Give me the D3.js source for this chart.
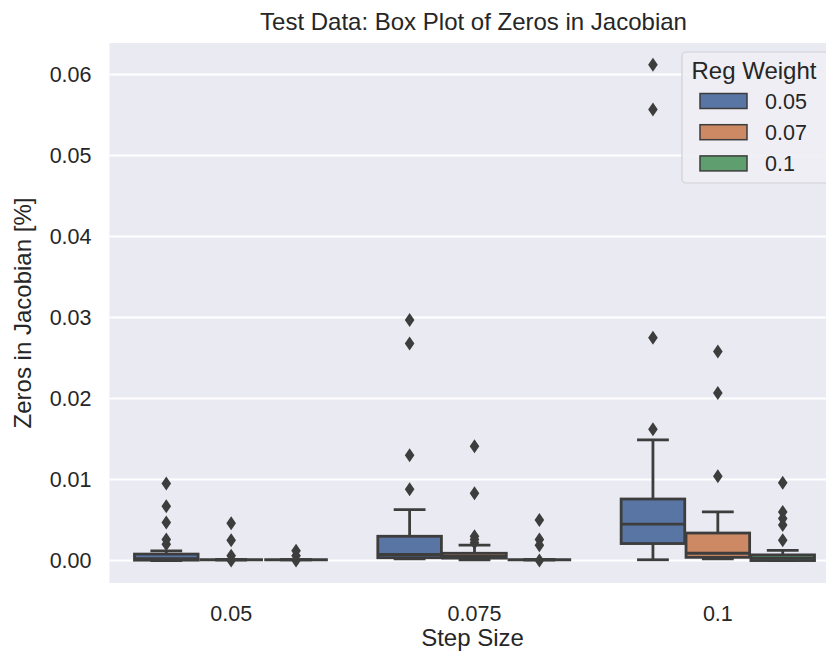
<!DOCTYPE html>
<html>
<head>
<meta charset="utf-8">
<script src="https://cdn.jsdelivr.net/npm/d3@7"></script>
<style>
  html, body { margin: 0; padding: 0; background: #fff; }
  svg { display: block; font-family: "Liberation Sans", Arial, sans-serif; }
</style>
</head>
<body>
<div id="chart"></div>
<script>
// ── Box plot: ceros en el jacobiano por tamaño de paso y peso de regularización ──

var stepSizes = ['0.05', '0.075', '0.1'];
var regWeights = ['0.05', '0.07', '0.1'];
var hueColors = ['#5875a4', '#cc8963', '#5f9e6e'];

// [whiskerLow, q1, median, q3, whiskerHigh] por tamaño de paso
var boxW005 = [
  [0.0000, 0.00005, 0.00025, 0.0008, 0.0012],
  [0.0002, 0.00035, 0.00075, 0.0030, 0.0063],
  [0.0001, 0.0021, 0.0045, 0.0076, 0.0149]
];
var boxW007 = [
  [0.0001, 0.0001, 0.0001, 0.0001, 0.0001],
  [0.0001, 0.0003, 0.0005, 0.0009, 0.0019],
  [0.0002, 0.0004, 0.0009, 0.0034, 0.0060]
];
var boxW01 = [
  [0.0001, 0.0001, 0.0001, 0.0001, 0.0001],
  [0.0001, 0.0001, 0.0001, 0.0001, 0.0001],
  [0.0000, 0.0000, 0.0003, 0.0007, 0.00125]
];

// valores atípicos (fliers) por tamaño de paso
var fliersW005 = [
  [0.0095, 0.0067, 0.0047, 0.0026, 0.0020],
  [0.0297, 0.0268, 0.0130, 0.0088],
  [0.0612, 0.0557, 0.0275, 0.0162]
];
var fliersW007 = [
  [0.0046, 0.0025, 0.0006, 0.0000],
  [0.0141, 0.0083, 0.0030, 0.0026, 0.0022],
  [0.0258, 0.0207, 0.0104]
];
var fliersW01 = [
  [0.0012, 0.0006, 0.0000],
  [0.0050, 0.0026, 0.0019, 0.0000],
  [0.0096, 0.0060, 0.0052, 0.0044, 0.0025]
];

var yTicks = [0, 0.01, 0.02, 0.03, 0.04, 0.05, 0.06];

var boxes = [boxW005, boxW007, boxW01];
var fliers = [fliersW005, fliersW007, fliersW01];

var W = 826, H = 657;
var plot = { left: 109.5, right: 839.5, top: 43, bottom: 583 };
var EDGE = '#3d3d3d';
var LW = 2.8;
var FONT = '"Liberation Sans", Arial, sans-serif';

var svg = d3.select('#chart').append('svg')
  .attr('width', W).attr('height', H);

var x = d3.scaleBand().domain(stepSizes).range([plot.left, plot.right]).padding(0);
var y = d3.scaleLinear().domain([-0.00277, 0.0639]).range([plot.bottom, plot.top]);

// Fondo estilo seaborn darkgrid
svg.append('rect')
  .attr('x', plot.left).attr('y', plot.top)
  .attr('width', plot.right - plot.left).attr('height', plot.bottom - plot.top)
  .attr('fill', '#eaeaf2');

// Líneas de cuadrícula horizontales
svg.append('g')
  .selectAll('line').data(yTicks).enter().append('line')
  .attr('x1', plot.left).attr('x2', plot.right)
  .attr('y1', function (d) { return y(d); })
  .attr('y2', function (d) { return y(d); })
  .attr('stroke', '#fff').attr('stroke-width', 2);

// Ejes (sin dominio ni marcas, como seaborn)
var yAxis = svg.append('g')
  .attr('transform', 'translate(' + (plot.left - 4) + ',0)')
  .call(d3.axisLeft(y).tickValues(yTicks).tickFormat(d3.format('.2f')).tickSize(0).tickPadding(14));
yAxis.select('.domain').remove();
yAxis.selectAll('text')
  .attr('font-family', FONT).attr('font-size', 21.5).attr('fill', '#262626');

var xAxis = svg.append('g')
  .attr('transform', 'translate(0,' + plot.bottom + ')')
  .call(d3.axisBottom(x).tickSize(0).tickPadding(23));
xAxis.select('.domain').remove();
xAxis.selectAll('text')
  .attr('font-family', FONT).attr('font-size', 21.5).attr('fill', '#262626');

// Cajas
var slot = x.bandwidth() * 0.8 / regWeights.length;
var boxW = slot * 0.98;

var items = [];
regWeights.forEach(function (w, hi) {
  stepSizes.forEach(function (s, si) {
    var cx = x(s) + x.bandwidth() / 2 + (hi - (regWeights.length - 1) / 2) * slot;
    items.push({ cx: cx, stats: boxes[hi][si], fliers: fliers[hi][si], color: hueColors[hi] });
  });
});

var g = svg.append('g');
items.forEach(function (d) {
  var s = d.stats;
  var bx = g.append('g');
  // bigotes
  bx.append('line')
    .attr('x1', d.cx).attr('x2', d.cx).attr('y1', y(s[3])).attr('y2', y(s[4]))
    .attr('stroke', EDGE).attr('stroke-width', LW);
  bx.append('line')
    .attr('x1', d.cx).attr('x2', d.cx).attr('y1', y(s[1])).attr('y2', y(s[0]))
    .attr('stroke', EDGE).attr('stroke-width', LW);
  [s[0], s[4]].forEach(function (v) {
    bx.append('line')
      .attr('x1', d.cx - boxW / 4).attr('x2', d.cx + boxW / 4)
      .attr('y1', y(v)).attr('y2', y(v))
      .attr('stroke', EDGE).attr('stroke-width', LW);
  });
  bx.append('rect')
    .attr('x', d.cx - boxW / 2).attr('width', boxW)
    .attr('y', y(s[3])).attr('height', Math.max(0, y(s[1]) - y(s[3])))
    .attr('fill', d.color).attr('stroke', EDGE).attr('stroke-width', LW);
  bx.append('line')
    .attr('x1', d.cx - boxW / 2).attr('x2', d.cx + boxW / 2)
    .attr('y1', y(s[2])).attr('y2', y(s[2]))
    .attr('stroke', EDGE).attr('stroke-width', LW);
  // atípicos: diamante delgado
  bx.selectAll('path').data(d.fliers).enter().append('path')
    .attr('d', 'M0,-7 L4.8,0 L0,7 L-4.8,0 Z')
    .attr('transform', function (v) { return 'translate(' + d.cx + ',' + y(v) + ')'; })
    .attr('fill', EDGE);
});

// Títulos
svg.append('text')
  .attr('x', (plot.left + plot.right) / 2 - 1).attr('y', 30)
  .attr('text-anchor', 'middle').attr('font-size', 24).attr('fill', '#262626')
  .text('Test Data: Box Plot of Zeros in Jacobian');

svg.append('text')
  .attr('x', (plot.left + plot.right) / 2 - 2).attr('y', 646)
  .attr('text-anchor', 'middle').attr('font-size', 24).attr('fill', '#262626')
  .text('Step Size');

svg.append('text')
  .attr('transform', 'translate(31,' + ((plot.top + plot.bottom) / 2) + ') rotate(-90)')
  .attr('text-anchor', 'middle').attr('font-size', 24).attr('fill', '#262626')
  .text('Zeros in Jacobian [%]');

// Leyenda
var leg = svg.append('g');
leg.append('rect')
  .attr('x', 682).attr('y', 52).attr('width', 150).attr('height', 131).attr('rx', 4)
  .attr('fill', '#eeeef4').attr('fill-opacity', 0.9)
  .attr('stroke', '#d0d0d6').attr('stroke-width', 1.2);
leg.append('text')
  .attr('x', 754).attr('y', 79).attr('text-anchor', 'middle')
  .attr('font-size', 24).attr('fill', '#262626')
  .text('Reg Weight');
regWeights.forEach(function (w, i) {
  var cy = 101 + i * 31.2;
  leg.append('rect')
    .attr('x', 700).attr('y', cy - 7.5).attr('width', 47).attr('height', 15)
    .attr('fill', hueColors[i]).attr('stroke', EDGE).attr('stroke-width', 1.5);
  leg.append('text')
    .attr('x', 765).attr('y', cy + 7.5)
    .attr('font-size', 21.5).attr('fill', '#262626')
    .text(w);
});
</script>
</body>
</html>
